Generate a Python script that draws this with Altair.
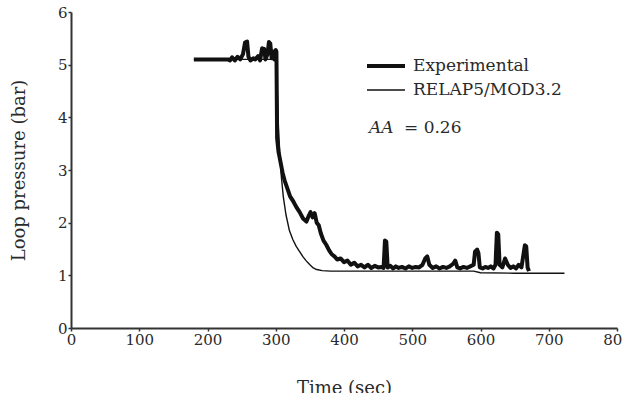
import altair as alt
import pandas as pd

exp_t = [180, 230, 233, 236, 240, 244, 248, 252, 255, 258, 260, 263, 267, 270, 274, 277, 280, 283, 285, 288,
         290, 292, 294, 296, 298, 300, 301, 302, 304, 307, 310, 313, 317, 321, 325, 330, 335, 340, 345, 348,
         351, 354, 357, 360, 363, 366, 370, 374, 378, 382, 386, 390, 395, 400, 405, 410, 415, 420, 425, 430,
         435, 440, 445, 450, 455, 458, 460, 462, 464, 468, 472, 476, 480, 485, 490, 495, 500, 505, 510, 515,
         519, 522, 525, 530, 535, 540, 545, 550, 555, 560, 563, 566, 570, 575, 580, 585, 590, 592, 595, 597,
         599, 603, 607, 611, 615, 619, 622, 624, 626, 628, 632, 636, 640, 644, 648, 652, 656, 660, 663, 665,
         667, 669, 671]
exp_p = [5.10, 5.10, 5.08, 5.14, 5.08, 5.15, 5.10, 5.20, 5.42, 5.44, 5.15, 5.08, 5.12, 5.10, 5.16, 5.08, 5.31, 5.30, 5.10, 5.20,
         5.43, 5.40, 5.12, 5.25, 5.10, 5.28, 5.25, 3.60, 3.35, 3.15, 2.95, 2.80, 2.65, 2.50, 2.42, 2.30, 2.20, 2.08, 2.02, 2.12,
         2.20, 2.10, 2.18, 2.00, 1.95, 1.80, 1.66, 1.58, 1.48, 1.40, 1.36, 1.30, 1.32, 1.25, 1.28, 1.20, 1.24, 1.17, 1.20, 1.15,
         1.20, 1.14, 1.18, 1.15, 1.16, 1.14, 1.66, 1.64, 1.15, 1.18, 1.13, 1.17, 1.14, 1.16, 1.13, 1.17, 1.14, 1.16, 1.15, 1.20,
         1.32, 1.36, 1.20, 1.14, 1.17, 1.13, 1.16, 1.14, 1.17, 1.22, 1.28, 1.15, 1.13, 1.16, 1.14, 1.17, 1.20, 1.45, 1.49, 1.42,
         1.15, 1.13, 1.16, 1.14, 1.17, 1.13, 1.20, 1.81, 1.78, 1.20, 1.15, 1.32, 1.20, 1.14, 1.17, 1.13, 1.20, 1.15, 1.40, 1.57,
         1.55, 1.15, 1.08]

rel_t = [180, 300, 302, 304, 306, 308, 311, 315, 320, 325, 330, 335, 340, 345, 350, 355, 360, 368, 380, 450, 590, 600, 650, 723]
rel_p = [5.10, 5.10, 4.60, 3.80, 3.30, 2.90, 2.50, 2.15, 1.85, 1.68, 1.55, 1.45, 1.35, 1.27, 1.20, 1.14, 1.11, 1.09, 1.08, 1.08, 1.08, 1.05, 1.04, 1.04]

series_names = ["Experimental", "RELAP5/MOD3.2"]
series_widths = [4.0, 1.4]

df = pd.concat([
    pd.DataFrame({"t": exp_t, "p": exp_p, "series": series_names[0], "o": range(len(exp_t))}),
    pd.DataFrame({"t": rel_t, "p": rel_p, "series": series_names[1], "o": range(len(rel_t))}),
])

FONT = "DejaVu Serif"
TXT = "#2a2a2a"

lines = alt.Chart(df).mark_line(strokeJoin="round", color="#111111").encode(
    x=alt.X("t:Q", scale=alt.Scale(domain=[0, 800], nice=False),
            axis=alt.Axis(title="Time (sec)", values=[0, 100, 200, 300, 400, 500, 600, 700, 800])),
    y=alt.Y("p:Q", scale=alt.Scale(domain=[0, 6], nice=False),
            axis=alt.Axis(title="Loop pressure (bar)", values=[0, 1, 2, 3, 4, 5, 6])),
    detail="series:N",
    order="o:Q",
    strokeWidth=alt.StrokeWidth("series:N", scale=alt.Scale(domain=series_names, range=series_widths),
                                legend=None),
)

# manual legend
leg_lines = []
leg_texts = []
for i, name in enumerate(series_names):
    yy = 54 + 24 * i
    leg_lines.append(
        alt.Chart(pd.DataFrame({"s": [name]})).mark_rule(color="#111111", strokeWidth=series_widths[i]).encode(
            x=alt.value(296), x2=alt.value(334), y=alt.value(yy))
    )
    leg_texts.append(
        alt.Chart(pd.DataFrame({"s": [name]})).mark_text(
            font=FONT, fontSize=17, color=TXT, align="left", baseline="middle"
        ).encode(text="s:N", x=alt.value(342), y=alt.value(yy))
    )

aa1 = alt.Chart(pd.DataFrame({"s": ["AA"]})).mark_text(
    font=FONT, fontSize=17, fontStyle="italic", color=TXT, align="left", baseline="middle"
).encode(text="s:N", x=alt.value(298), y=alt.value(116))
aa2 = alt.Chart(pd.DataFrame({"s": ["= 0.26"]})).mark_text(
    font=FONT, fontSize=17, color=TXT, align="left", baseline="middle"
).encode(text="s:N", x=alt.value(333), y=alt.value(116))

chart = alt.layer(lines, *leg_lines, *leg_texts, aa1, aa2).properties(
    width=546, height=316,
    autosize=alt.AutoSizeParams(type="none"),
    padding={"left": 71, "top": 12, "right": 6, "bottom": 65},
).configure_view(stroke=None).configure_axis(
    grid=False,
    domainColor="#333333", domainWidth=2,
    tickColor="#333333", tickSize=3, tickWidth=1.5,
    labelFont=FONT, labelFontSize=15, labelColor=TXT, labelPadding=1,
    titleFont=FONT, titleFontSize=18, titleColor=TXT, titleFontWeight="normal",
).configure_axisX(titlePadding=32, labelFlush=False).configure_axisY(titlePadding=29, labelFlush=False)

chart.save("out.html", embed_options={"renderer": "svg", "actions": False})
